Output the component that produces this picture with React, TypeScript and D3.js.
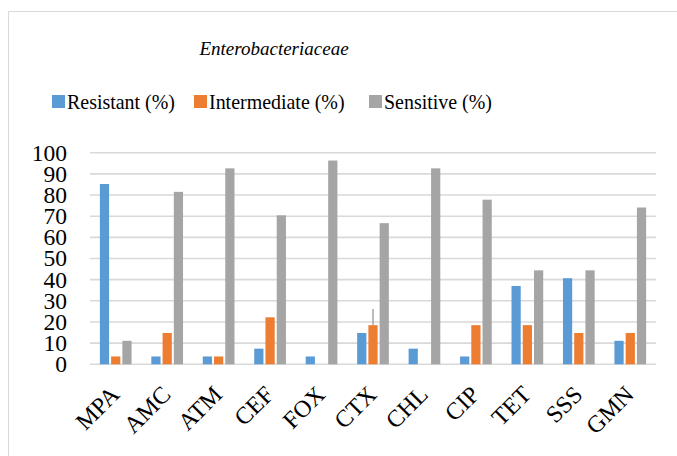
import React from "react";
import * as d3 from "d3";

const categories = ["MPA", "AMC", "ATM", "CEF", "FOX", "CTX", "CHL", "CIP", "TET", "SSS", "GMN"];
const seriesNames = ["Resistant (%)", "Intermediate (%)", "Sensitive (%)"];
const resistant = [85.2, 3.7, 3.7, 7.4, 3.7, 14.8, 7.4, 3.7, 37.0, 40.7, 11.1];
const intermediate = [3.7, 14.8, 3.7, 22.2, 0, 18.5, 0, 18.5, 18.5, 14.8, 14.8];
const sensitive = [11.1, 81.5, 92.6, 70.4, 96.3, 66.7, 92.6, 77.8, 44.4, 44.4, 74.1];
// stray error-bar on CTX intermediate (upper value), null elsewhere
const intermediateErrHigh: (number | null)[] = [null, null, null, null, null, 26.1, null, null, null, null, null];
const yTicks = [0, 10, 20, 30, 40, 50, 60, 70, 80, 90, 100];
const colors = ["#5B9BD5", "#ED7D31", "#A5A5A5"];
const title = "Enterobacteriaceae";

const W = 677;
const H = 456;
const FONT = "'Liberation Serif', 'Times New Roman', serif";

export default function App() {
  const x0 = d3.scaleBand<string>().domain(categories).range([90, 656]).padding(0);
  const x1 = d3.scaleBand<string>().domain(seriesNames).range([-15.85, 15.85]).paddingInner(0.18);
  const y = d3.scaleLinear().domain([0, 100]).range([364.3, 152.7]);
  const series = [resistant, intermediate, sensitive];
  const legendX = [52, 194, 369];

  return (
    <svg width={W} height={H} style={{ position: "fixed", left: 0, top: 0, background: "#fff" }}>
      <rect x={0} y={0} width={W} height={H} fill="#fff" />
      {/* border */}
      <path d={`M8.5,${H} V11.5 H${W}`} fill="none" stroke="#D9D9D9" strokeWidth={1} />
      {/* title */}
      <text x={274} y={55} textAnchor="middle" fontFamily={FONT} fontSize={19} fontStyle="italic" fill="#000">{title}</text>
      {/* legend */}
      {seriesNames.map((s, i) => (
        <g key={s}>
          <rect x={legendX[i]} y={95} width={13} height={13} fill={colors[i]} />
          <text
            transform={`translate(${legendX[i] + 15},108.5) scale(0.95,1)`}
            fontFamily={FONT}
            fontSize={21}
            fill="#000"
          >
            {s}
          </text>
        </g>
      ))}
      {/* gridlines */}
      {yTicks.map((t) => (
        <line key={t} x1={90} x2={656} y1={y(t)} y2={y(t)} stroke="#D9D9D9" strokeWidth={1.6} />
      ))}
      {/* y labels */}
      {yTicks.map((t) => (
        <text key={t} x={67} y={y(t)} dy="0.34em" textAnchor="end" fontFamily={FONT} fontSize={23.5} fill="#000">{t}</text>
      ))}
      {/* bars */}
      {categories.map((c, ci) => (
        <g key={c} transform={`translate(${(x0(c) as number) + x0.bandwidth() / 2},0)`}>
          {seriesNames.map((s, si) => {
            const v = series[si][ci];
            if (!v) return null;
            return (
              <rect key={s} x={x1(s) as number} y={y(v)} width={x1.bandwidth()} height={y(0) - y(v)} fill={colors[si]} />
            );
          })}
          {intermediateErrHigh[ci] != null && (
            <line
              x1={(x1(seriesNames[1]) as number) + x1.bandwidth() / 2}
              x2={(x1(seriesNames[1]) as number) + x1.bandwidth() / 2}
              y1={y(intermediate[ci])}
              y2={y(intermediateErrHigh[ci] as number)}
              stroke="#A5A5A5"
              strokeWidth={1.5}
            />
          )}
        </g>
      ))}
      {/* x labels */}
      {categories.map((c) => (
        <text
          key={c}
          transform={`translate(${(x0(c) as number) + x0.bandwidth() / 2 + 5},396) rotate(-45)`}
          textAnchor="end"
          fontFamily={FONT}
          fontSize={24}
          fill="#000"
        >
          {c}
        </text>
      ))}
    </svg>
  );
}
